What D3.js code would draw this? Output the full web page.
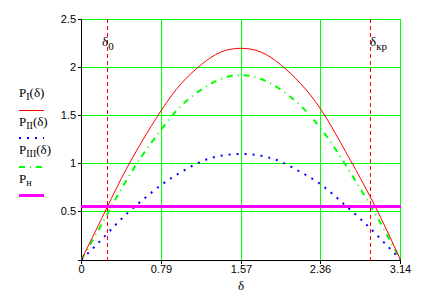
<!DOCTYPE html>
<html>
<head>
<meta charset="utf-8">
<script src="https://cdn.jsdelivr.net/npm/d3@7"></script>
<style>
  body { margin: 0; background: #fff; }
  svg { display: block; }
  .tick text { font-family: Arial, "Liberation Sans", sans-serif; font-size: 11px; }
  .lbl { font-family: "Liberation Serif", "DejaVu Serif", serif; font-size: 13px; }
</style>
</head>
<body>
<svg id="chart" width="424" height="292"></svg>
<script>
  // angle values (rad) read along the x axis
  const delta = [0, 0.2, 0.39, 0.59, 0.79, 0.98, 1.18, 1.37, 1.57, 1.77, 1.96, 2.16, 2.36, 2.55, 2.75, 2.95, 3.14];
  // power curves
  const pI   = [0, 0.43, 0.84, 1.22, 1.56, 1.83, 2.03, 2.16, 2.2, 2.16, 2.03, 1.83, 1.56, 1.22, 0.84, 0.43, 0];
  const pII  = [0, 0.21, 0.42, 0.61, 0.78, 0.91, 1.02, 1.08, 1.1, 1.08, 1.02, 0.91, 0.78, 0.61, 0.42, 0.21, 0];
  const pIII = [0, 0.37, 0.73, 1.07, 1.36, 1.6, 1.77, 1.88, 1.92, 1.88, 1.77, 1.6, 1.36, 1.07, 0.73, 0.37, 0];
  const pN = 0.55;
  const delta0 = 0.253;
  const deltaKr = 2.851;

  const xTicks = [0, 0.785, 1.571, 2.356, 3.1416];
  const xTickLabels = ["0", "0.79", "1.57", "2.36", "3.14"];
  const yTicks = [0.5, 1, 1.5, 2, 2.5];

  const svg = d3.select("#chart");
  const x = d3.scaleLinear().domain([0, Math.PI]).range([81.5, 400.5]);
  const y = d3.scaleLinear().domain([0, 2.5]).range([259.5, 19.5]);
  const pf = v => Math.floor(v);   // pixel column / row

  // grid, drawn as 1px filled rects so the colour stays pure
  const grid = svg.append("g").attr("fill", "#00ff00").attr("shape-rendering", "crispEdges");
  grid.selectAll(".gx").data(xTicks.slice(1)).enter().append("rect")
    .attr("x", d => pf(x(d))).attr("width", 1)
    .attr("y", pf(y(2.5))).attr("height", pf(y(0)) - pf(y(2.5)) + 1);
  grid.selectAll(".gy").data(yTicks).enter().append("rect")
    .attr("x", pf(x(0))).attr("width", pf(x(Math.PI)) - pf(x(0)) + 1)
    .attr("y", d => pf(y(d))).attr("height", 1);

  // axes
  const xAxis = d3.axisBottom(x).tickValues(xTicks)
    .tickFormat((d, i) => xTickLabels[i]).tickSize(4).tickSizeOuter(0);
  const gx = svg.append("g").attr("transform", "translate(0,260)").call(xAxis);
  gx.attr("shape-rendering", "crispEdges");
  gx.select(".domain").attr("d", "M78,0.5H401");
  gx.selectAll(".tick").attr("transform", d => `translate(${pf(x(d)) + 0.5},0)`);
  gx.selectAll(".tick text").attr("y", 5).attr("dy", "0.75em").attr("fill", "#000");

  const yAxis = d3.axisLeft(y).tickValues(yTicks).tickFormat(d3.format("")).tickSize(4).tickSizeOuter(0);
  const gy = svg.append("g").attr("transform", "translate(81,0)").call(yAxis);
  gy.attr("shape-rendering", "crispEdges");
  gy.select(".domain").attr("d", "M0.5,19V262");
  gy.selectAll(".tick").attr("transform", d => `translate(0,${pf(y(d)) + 0.5})`);
  gy.selectAll(".tick line").attr("x1", 0.5).attr("x2", -3.5);
  gy.selectAll(".tick text").attr("x", -5).attr("fill", "#000");

  // critical angle markers (dashed, 4 on / 3 off)
  const markers = svg.append("g").attr("fill", "#ff0000").attr("shape-rendering", "crispEdges");
  [delta0, deltaKr].forEach(d => {
    markers.selectAll(null).data(d3.range(pf(y(2.5)), pf(y(0)), 7)).enter().append("rect")
      .attr("x", pf(x(d))).attr("width", 1)
      .attr("y", v => v).attr("height", 4);
  });

  const line = d3.line().x((d, i) => x(delta[i])).y(d => y(d)).curve(d3.curveNatural);

  svg.append("path").datum(pIII).attr("d", line).attr("fill", "none")
    .attr("stroke", "#00ff00").attr("stroke-width", 2).attr("stroke-dasharray", "6,5,1,5");
  svg.append("path").datum(pII).attr("d", line).attr("fill", "none")
    .attr("stroke", "#0000ff").attr("stroke-width", 2).attr("stroke-dasharray", "2,6");
  svg.append("path").datum(pI).attr("d", line).attr("fill", "none")
    .attr("stroke", "#ff0000").attr("stroke-width", 1);
  svg.append("rect")
    .attr("x", pf(x(0))).attr("width", pf(x(Math.PI)) - pf(x(0)) + 1)
    .attr("y", pf(y(pN)) - 1).attr("height", 3)
    .attr("fill", "#ff00ff").attr("shape-rendering", "crispEdges");

  // marker labels
  function sub(g, xp, yp, main, s) {
    const t = g.append("text").attr("class", "lbl").attr("x", xp).attr("y", yp);
    t.append("tspan").text(main);
    t.append("tspan").attr("dy", 4).attr("font-size", 11).text(s);
    return t;
  }
  sub(svg, 102, 46, "δ", "0");
  sub(svg, 370, 46, "δ", "кр");
  svg.append("text").attr("class", "lbl").attr("x", x(1.571)).attr("y", 290)
    .attr("text-anchor", "middle").text("δ");

  // legend
  const legend = [
    { name: "I", arg: true, color: "#ff0000", w: 1, dash: null },
    { name: "II", arg: true, color: "#0000ff", w: 2, dash: "2,6" },
    { name: "III", arg: true, color: "#00ff00", w: 2, dash: "6,5,1,5" },
    { name: "н", arg: false, color: "#ff00ff", w: 3, dash: null }
  ];
  const lg = svg.append("g");
  legend.forEach((d, i) => {
    const yy = 97 + i * 28.5;
    const t = lg.append("text").attr("class", "lbl").attr("x", 19).attr("y", yy);
    t.append("tspan").text("P");
    t.append("tspan").attr("dy", 3).attr("font-size", 10).text(d.name);
    if (d.arg) t.append("tspan").attr("dy", -3).text("(δ)");
    lg.append("line").attr("x1", 19).attr("x2", 44)
      .attr("y1", Math.round(yy + 12.5) + (d.w % 2 ? 0.5 : 0)).attr("y2", Math.round(yy + 12.5) + (d.w % 2 ? 0.5 : 0))
      .attr("stroke", d.color).attr("stroke-width", d.w).attr("stroke-dasharray", d.dash);
  });
</script>
</body>
</html>
